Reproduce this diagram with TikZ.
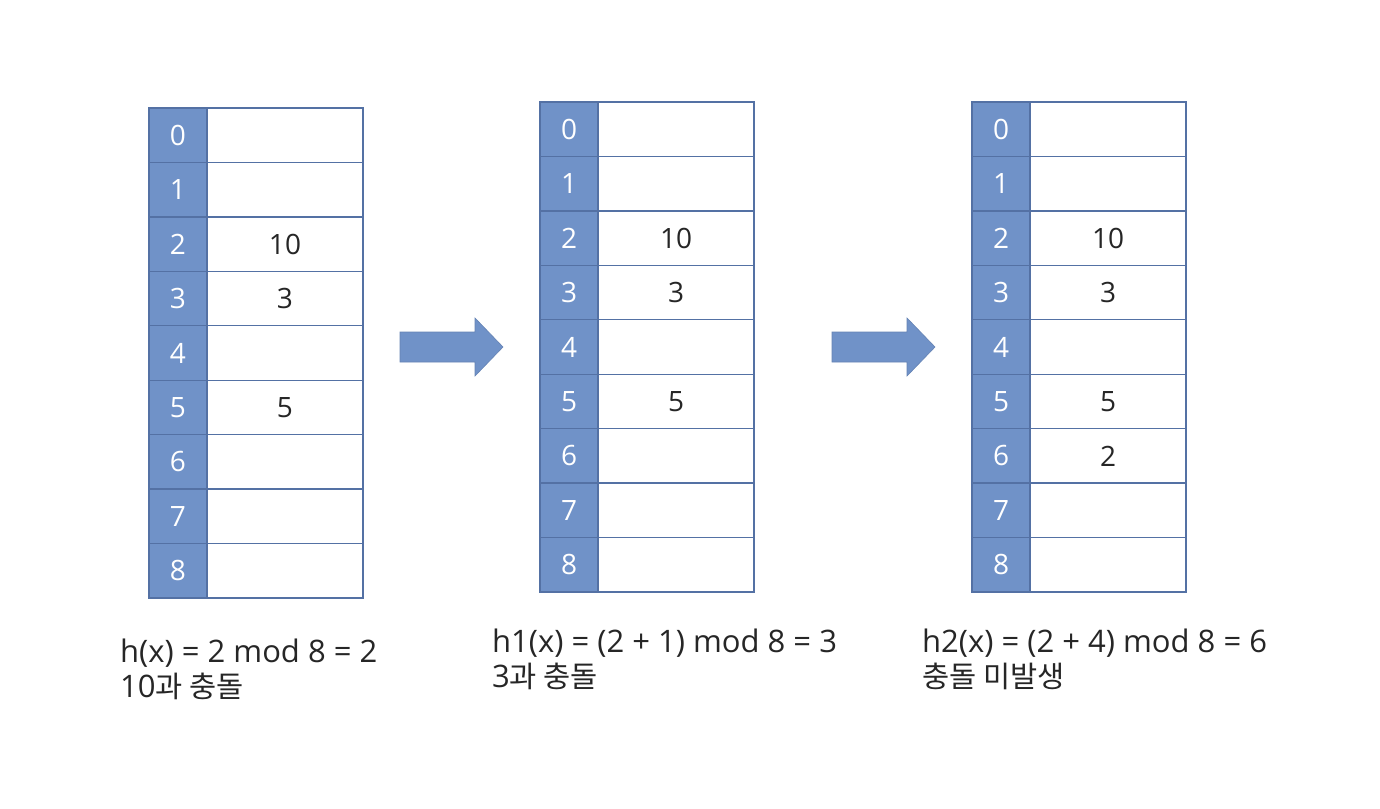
\documentclass[tikz,border=0pt]{standalone}
\usepackage{fontspec}
\setmainfont{Open Sans}
\newfontfamily\kr{Noto Sans CJK KR}
\definecolor{idxblue}{RGB}{112,146,200}
\definecolor{edgeblue}{RGB}{84,113,164}
\definecolor{txt}{RGB}{38,38,38}
\tikzset{
  idxcell/.style={draw=edgeblue, fill=idxblue, line width=1.3pt, minimum width=58pt, minimum height=54.44pt, inner sep=0pt, outer sep=0pt, text=white, font=\fontsize{28}{32}\selectfont, anchor=north west},
  valcell/.style={draw=edgeblue, fill=white, line width=1.3pt, minimum width=156pt, minimum height=54.44pt, inner sep=0pt, outer sep=0pt, text=txt, font=\fontsize{28}{32}\selectfont, anchor=north west},
  blockarrow/.style={fill=idxblue, draw=idxblue!90!black, line width=0.6pt},
  caption/.style={anchor=base west, align=left, text=txt, inner sep=0pt, font=\fontsize{31}{35}\selectfont}
}
\newcommand\krs[1]{{\kr\fontsize{29.5}{35}\selectfont #1}}
\begin{document}
\begin{tikzpicture}[x=1pt,y=-1pt]
\useasboundingbox (0,0) rectangle (1380,808);
\fill[white] (0,0) rectangle (1380,808);
% table 1
\foreach \r/\v in {0/,1/,2/10,3/3,4/,5/5,6/,7/,8/} {
  \node[idxcell] (ta\r) at (149,108+\r*54.44) {\r};
  \node[valcell] (va\r) at (207,108+\r*54.44) {\v};
}
% table 2
\foreach \r/\v in {0/,1/,2/10,3/3,4/,5/5,6/,7/,8/} {
  \node[idxcell] (tb\r) at (540,102+\r*54.44) {\r};
  \node[valcell] (vb\r) at (598,102+\r*54.44) {\v};
}
% table 3
\foreach \r/\v in {0/,1/,2/10,3/3,4/,5/5,6/2,7/,8/} {
  \node[idxcell] (tc\r) at (972,102+\r*54.44) {\r};
  \node[valcell] (vc\r) at (1030,102+\r*54.44) {\v};
}
% block arrows
\draw[blockarrow] (400,332) -- (475,332) -- (475,318) -- (503,347) -- (475,376) -- (475,362) -- (400,362) -- cycle;
\draw[blockarrow] (832,332) -- (907,332) -- (907,318) -- (935,347) -- (907,376) -- (907,362) -- (832,362) -- cycle;
% captions
\node[caption] (capa) at (120,697) {h(x) = 2 mod 8 = 2\\10\krs{과 충돌}};
\node[caption] (capb) at (492,687) {h1(x) = (2 + 1) mod 8 = 3\\3\krs{과 충돌}};
\node[caption] (capc) at (922,687) {h2(x) = (2 + 4) mod 8 = 6\\\krs{충돌 미발생}};
\end{tikzpicture}
\end{document}
